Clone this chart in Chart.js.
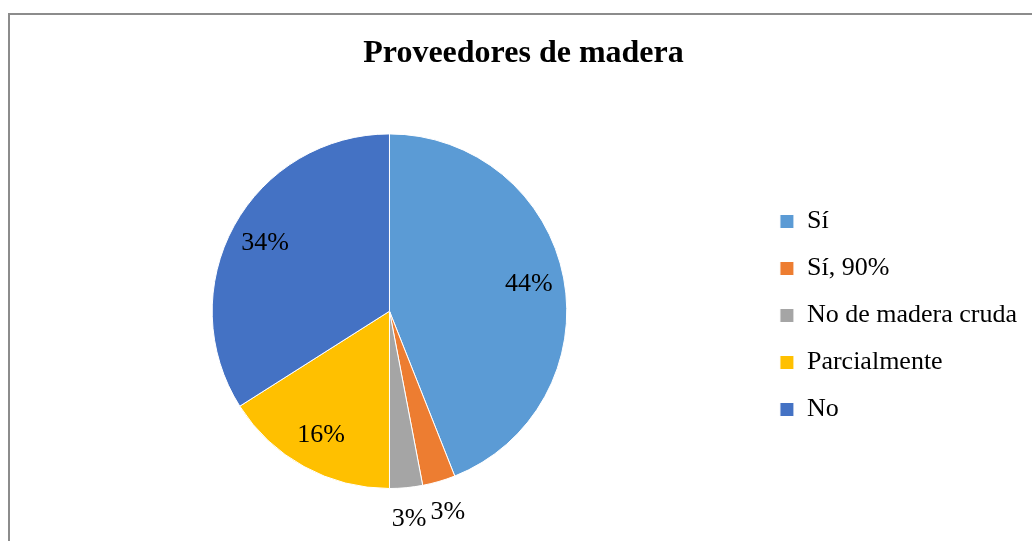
<!DOCTYPE html>
<html>
<head>
<meta charset="utf-8">
<script src="https://cdn.jsdelivr.net/npm/chart.js@4"></script>
<style>
  html, body { margin: 0; padding: 0; background: #fff; overflow: hidden; }
  body { width: 1032px; height: 541px; position: relative; }
  .frame {
    position: absolute; left: 8px; top: 13px;
    width: 2000px; height: 2000px;
    border: 2px solid #8c8c8c;
  }
  #chart { position: absolute; left: 0; top: 0; }
</style>
</head>
<body>
<div class="frame"></div>
<canvas id="chart" width="1054" height="541"></canvas>
<script>
const titleText = "Proveedores de madera";
const categories = ["Sí", "Sí, 90%", "No de madera cruda", "Parcialmente", "No"];
const values = [44, 3, 3, 16, 34];
const colors = ["#5B9BD5", "#ED7D31", "#A5A5A5", "#FFC000", "#4472C4"];

const serif = "'Liberation Serif', 'Times New Roman', serif";

// percent labels: inside for big slices, outside for thin ones
const pctLabels = {
  id: "pctLabels",
  afterDatasetsDraw(chart) {
    const ctx = chart.ctx;
    const meta = chart.getDatasetMeta(0);
    const total = values.reduce((a, b) => a + b, 0);
    ctx.save();
    ctx.font = "26px " + serif;
    ctx.fillStyle = "#000";
    ctx.textAlign = "center";
    ctx.textBaseline = "middle";
    meta.data.forEach((arc, i) => {
      const p = arc.getProps(["x", "y", "startAngle", "endAngle", "outerRadius"], true);
      const mid = (p.startAngle + p.endAngle) / 2;
      const share = values[i] / total;
      const r = p.outerRadius * (share < 0.05 ? 1.18 : 0.8);
      const txt = Math.round(share * 100) + "%";
      ctx.fillText(txt, p.x + Math.cos(mid) * r, p.y + Math.sin(mid) * r);
    });
    ctx.restore();
  }
};

new Chart(document.getElementById("chart"), {
  type: "pie",
  data: {
    labels: categories,
    datasets: [{
      data: values,
      backgroundColor: colors,
      borderColor: "#ffffff",
      borderWidth: 1
    }]
  },
  options: {
    responsive: false,
    animation: false,
    devicePixelRatio: 1,
    layout: { padding: { top: 0, right: 27, bottom: 52, left: 20 } },
    plugins: {
      title: {
        display: true,
        text: titleText,
        color: "#000",
        font: { family: serif, size: 32, weight: "bold" },
        padding: { top: 35, bottom: 60 }
      },
      legend: {
        position: "right",
        // empty title only pushes the entries down to mid height
        title: {
          display: true,
          text: " ",
          font: { size: 10 },
          padding: { top: 130, bottom: 0 }
        },
        labels: {
          color: "#000",
          font: { family: serif, size: 26 },
          boxWidth: 14,
          boxHeight: 14,
          padding: 21
        }
      },
      tooltip: { enabled: false }
    }
  },
  plugins: [pctLabels]
});
</script>
</body>
</html>
